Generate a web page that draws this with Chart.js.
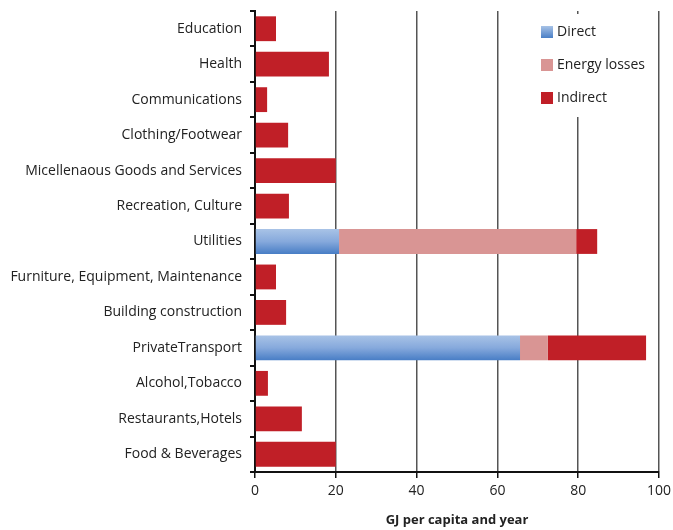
<!DOCTYPE html>
<html>
<head>
<meta charset="utf-8">
<script src="https://cdn.jsdelivr.net/npm/chart.js@4"></script>
<style>
  body { margin: 0; background: #fff; }
  #wrap { width: 673px; height: 530px; }
</style>
</head>
<body>
<div id="wrap"><canvas id="barChart"></canvas></div>
<script>
const categories = [
  "Education",
  "Health",
  "Communications",
  "Clothing/Footwear",
  "Micellenaous Goods and Services",
  "Recreation, Culture",
  "Utilities",
  "Furniture, Equipment, Maintenance",
  "Building construction",
  "PrivateTransport",
  "Alcohol,Tobacco",
  "Restaurants,Hotels",
  "Food & Beverages",
];
const direct =       [0, 0, 0, 0, 0, 0, 20.8, 0, 0, 65.6, 0, 0, 0];
const energyLosses = [0, 0, 0, 0, 0, 0, 58.7, 0, 0, 6.9, 0, 0, 0];
const indirect =     [5.2, 18.3, 3.0, 8.2, 20.0, 8.4, 5.2, 5.2, 7.7, 24.3, 3.2, 11.6, 20.0];
const xTicks = [0, 20, 40, 60, 80, 100];

const FONT = "'Open Sans', 'Liberation Sans', sans-serif";

function directFill(ctx) {
  const chart = ctx.chart;
  if (!chart.chartArea || !chart.scales.y) return '#7ba2da';
  const y = chart.scales.y.getPixelForValue(ctx.dataIndex);
  const g = chart.ctx.createLinearGradient(0, y - 12, 0, y + 12);
  g.addColorStop(0, '#a7c2e6');
  g.addColorStop(0.5, '#86a9dc');
  g.addColorStop(1, '#4a7fc6');
  return g;
}

// legend sits inside the plot, top right, on a white box
const insideLegend = {
  id: 'insideLegend',
  afterDraw(chart) {
    const c = chart.ctx;
    const x0 = 530, y0 = 14;
    c.save();
    c.fillStyle = '#fff';
    c.fillRect(x0, y0, 125, 103);
    const swatch = ['#7ba2da', '#d99594', '#c01f27'];
    chart.data.datasets.forEach((ds, i) => {
      const y = 32 + i * 33;
      if (i == 0) {
        const g = c.createLinearGradient(0, y - 6, 0, y + 6);
        g.addColorStop(0, '#a7c2e6');
        g.addColorStop(1, '#4a7fc6');
        c.fillStyle = g;
      } else {
        c.fillStyle = swatch[i];
      }
      c.fillRect(541, y - 6, 12, 12);
      c.fillStyle = '#222';
      c.font = "14px " + FONT;
      c.textBaseline = 'middle';
      c.fillText(ds.label, 557, y);
    });
    c.restore();
  }
};

const config = {
  type: 'bar',
  data: {
    labels: categories,
    datasets: [
      { label: 'Direct', data: direct, backgroundColor: directFill },
      { label: 'Energy losses', data: energyLosses, backgroundColor: '#d99594' },
      { label: 'Indirect', data: indirect, backgroundColor: '#c01f27' },
    ],
  },
  options: {
    indexAxis: 'y',
    responsive: true,
    maintainAspectRatio: false,
    animation: false,
    layout: { padding: { top: 11, right: 14, left: 0, bottom: 0 } },
    datasets: {
      bar: { categoryPercentage: 1, barPercentage: 0.7 },
    },
    plugins: {
      legend: { display: false },
      tooltip: { enabled: false },
    },
    scales: {
      x: {
        stacked: true,
        min: 0,
        max: 100,
        afterBuildTicks: (scale) => { scale.ticks = xTicks.map(v => ({ value: v })); },
        border: { display: true, color: '#111', width: 2 },
        grid: { color: '#555', lineWidth: 1.5, tickColor: '#111', tickLength: 6, drawTicks: true },
        ticks: { color: '#222', font: { family: FONT, size: 14 }, padding: 5 },
        title: {
          display: true,
          text: 'GJ per capita and year',
          color: '#222',
          font: { family: FONT, size: 13, weight: 'bold' },
          padding: { top: 12, bottom: 2 },
        },
        afterFit: (scale) => {
          scale.height = 58;
          scale.paddingLeft = 0;
          scale.paddingRight = 0;
        },
      },
      y: {
        stacked: true,
        border: { display: true, color: '#111', width: 2 },
        grid: { offset: true, drawOnChartArea: false, drawTicks: true, tickLength: 5, tickColor: '#111', lineWidth: 2 },
        ticks: { color: '#222', font: { family: FONT, size: 14 }, padding: 8 },
        afterFit: (scale) => {
          scale.width = 255;
          scale.paddingTop = 0;
          scale.paddingBottom = 0;
        },
      },
    },
  },
  plugins: [insideLegend],
};

var myChart = new Chart(document.getElementById('barChart'), config);
</script>
</body>
</html>
